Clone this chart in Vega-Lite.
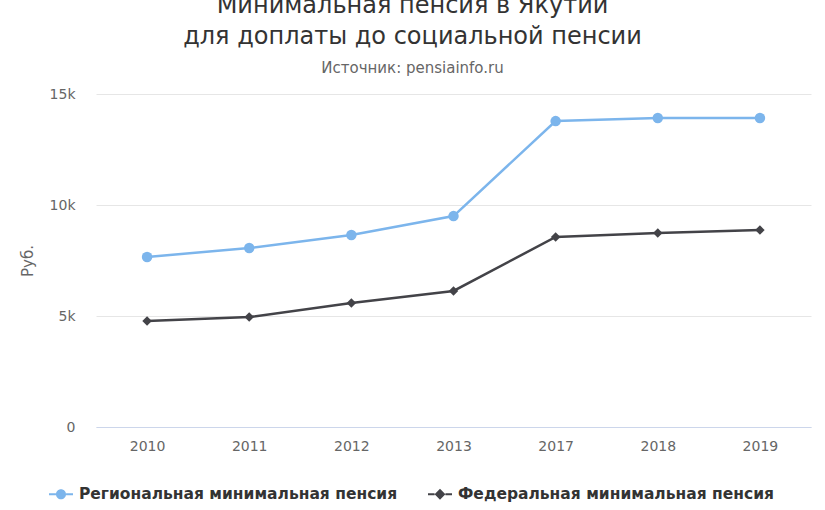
{
  "$schema": "https://vega.github.io/schema/vega-lite/v6.json",
  "autosize": "none",
  "width": 715,
  "height": 333,
  "padding": {"left": 96, "top": 94, "right": 14, "bottom": 83},
  "background": "white",
  "title": {
    "text": ["Минимальная пенсия в Якутии", "для доплаты до социальной пенсии"],
    "subtitle": "Источник: pensiainfo.ru",
    "anchor": "middle",
    "dx": -41,
    "offset": 11,
    "font": "DejaVu Sans",
    "fontSize": 24,
    "fontWeight": "normal",
    "color": "#333333",
    "lineHeight": 31,
    "subtitleFont": "DejaVu Sans",
    "subtitleFontSize": 15,
    "subtitleColor": "#666666",
    "subtitlePadding": 12
  },
  "config": {
    "view": {"stroke": null},
    "font": "DejaVu Sans"
  },
  "data": {
    "values": [
      {"year": "2010", "series": "Региональная минимальная пенсия", "value": 7660},
      {"year": "2011", "series": "Региональная минимальная пенсия", "value": 8060},
      {"year": "2012", "series": "Региональная минимальная пенсия", "value": 8650},
      {"year": "2013", "series": "Региональная минимальная пенсия", "value": 9500},
      {"year": "2017", "series": "Региональная минимальная пенсия", "value": 13780},
      {"year": "2018", "series": "Региональная минимальная пенсия", "value": 13920},
      {"year": "2019", "series": "Региональная минимальная пенсия", "value": 13920},
      {"year": "2010", "series": "Федеральная минимальная пенсия", "value": 4770},
      {"year": "2011", "series": "Федеральная минимальная пенсия", "value": 4950},
      {"year": "2012", "series": "Федеральная минимальная пенсия", "value": 5590},
      {"year": "2013", "series": "Федеральная минимальная пенсия", "value": 6130},
      {"year": "2017", "series": "Федеральная минимальная пенсия", "value": 8560},
      {"year": "2018", "series": "Федеральная минимальная пенсия", "value": 8740},
      {"year": "2019", "series": "Федеральная минимальная пенсия", "value": 8870}
    ]
  },
  "encoding": {
    "x": {
      "field": "year",
      "type": "ordinal",
      "scale": {"type": "point", "padding": 0.5},
      "axis": {
        "title": null,
        "labelAngle": 0,
        "labelFontSize": 14,
        "labelColor": "#666666",
        "labelPadding": 12,
        "ticks": false,
        "domainColor": "#ccd6eb",
        "domainWidth": 1,
        "grid": false
      }
    },
    "y": {
      "field": "value",
      "type": "quantitative",
      "scale": {"domain": [0, 15000]},
      "axis": {
        "title": "Руб.",
        "titleFontSize": 15,
        "titleFontWeight": "normal",
        "titleColor": "#666666",
        "titlePadding": 14,
        "values": [0, 5000, 10000, 15000],
        "labelExpr": "datum.value === 0 ? '0' : (datum.value / 1000) + 'k'",
        "labelFontSize": 14,
        "labelColor": "#666666",
        "labelPadding": 21,
        "ticks": false,
        "domain": false,
        "gridColor": "#e6e6e6",
        "gridWidth": 1
      }
    },
    "color": {
      "field": "series",
      "type": "nominal",
      "scale": {
        "domain": ["Региональная минимальная пенсия", "Федеральная минимальная пенсия"],
        "range": ["#7cb5ec", "#434348"]
      },
      "legend": {
        "title": null,
        "orient": "none",
        "legendX": -47,
        "legendY": 388,
        "direction": "horizontal",
        "columns": 2,
        "columnPadding": 30,
        "labelFontSize": 15.5,
        "labelFontWeight": "bold",
        "labelColor": "#333333",
        "labelLimit": 400,
        "labelOffset": 6,
        "symbolSize": 576,
        "symbolStrokeWidth": 0,
        "symbolOpacity": 1,
        "encode": {
          "symbols": {
            "update": {
              "shape": {"signal": "datum.value === 'Региональная минимальная пенсия' ? 'M-1,-0.09L-0.42,-0.09L-0.42,0.09L-1,0.09Z M0.42,-0.09L1,-0.09L1,0.09L0.42,0.09Z M0.42,0 A0.42,0.42 0 1,1 -0.42,0 A0.42,0.42 0 1,1 0.42,0Z' : 'M-1,-0.09L-0.45,-0.09L-0.45,0.09L-1,0.09Z M0.45,-0.09L1,-0.09L1,0.09L0.45,0.09Z M0,-0.45L0.45,0L0,0.45L-0.45,0Z'"},
              "size": {"value": 576},
              "fill": {"signal": "datum.value === 'Региональная минимальная пенсия' ? '#7cb5ec' : '#434348'"},
              "strokeWidth": {"value": 0},
              "opacity": {"value": 1}
            }
          }
        }
      }
    }
  },
  "layer": [
    {
      "mark": {"type": "line", "strokeWidth": 2.5}
    },
    {
      "transform": [{"filter": "datum.series === 'Региональная минимальная пенсия'"}],
      "mark": {"type": "point", "filled": true, "opacity": 1, "shape": "circle", "size": 110}
    },
    {
      "transform": [{"filter": "datum.series === 'Федеральная минимальная пенсия'"}],
      "mark": {"type": "point", "filled": true, "opacity": 1, "shape": "diamond", "size": 90}
    }
  ]
}
